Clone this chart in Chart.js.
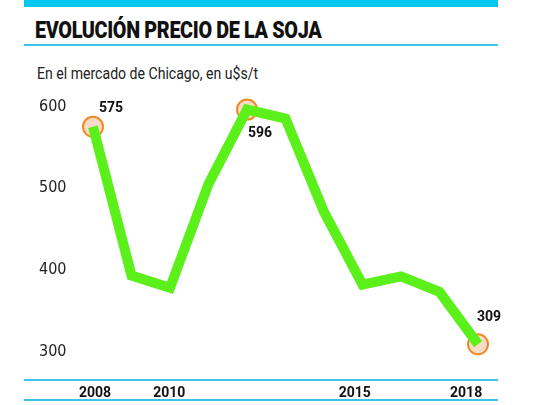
<!DOCTYPE html>
<html lang="es">
<head>
    <meta charset="UTF-8">
    <title>Evolución precio de la soja</title>
    <script src="https://cdn.jsdelivr.net/npm/chart.js"></script>
    <style>
        * { margin: 0; padding: 0; box-sizing: border-box; }
        body { width: 540px; height: 405px; background: #fff; position: relative; overflow: hidden;
               font-family: 'Liberation Sans Narrow', 'DejaVu Sans Condensed', Roboto, sans-serif; }
        .bar { position: absolute; left: 24px; width: 474px; background: #3cc4ea; }
        #topBar { top: 0; height: 7px; background: #00c6f2; }
        #titleLine { top: 44px; height: 2px; }
        #axisTop { top: 379px; height: 2px; }
        #axisBottom { top: 399px; height: 2px; }
        h1 { position: absolute; left: 35px; top: 17px; font-size: 23px; font-weight: 900; color: #111;
             font-family: Roboto, sans-serif; letter-spacing: -0.4px; transform: scaleX(0.86); transform-origin: left; }
        h2 { position: absolute; left: 37px; top: 64px; font-size: 16px; font-weight: 400; color: #222;
             font-family: Roboto, sans-serif; transform: scaleX(0.88); transform-origin: left; }
        #chartBox { position: absolute; left: 0; top: 0; width: 540px; height: 405px; }
    </style>
</head>
<body>
    <div class="bar" id="topBar"></div>
    <h1>EVOLUCIÓN PRECIO DE LA SOJA</h1>
    <div class="bar" id="titleLine"></div>
    <h2>En el mercado de Chicago, en u$s/t</h2>
    <div class="bar" id="axisTop"></div>
    <div class="bar" id="axisBottom"></div>
    <div id="chartBox"><canvas id="sojaChart"></canvas></div>

    <script>
        // datos
        var years = [2008, 2009, 2010, 2011, 2012, 2013, 2014, 2015, 2016, 2017, 2018];
        var prices = [575, 393, 378, 505, 596, 585, 471, 382, 392, 373, 309];
        var yearTicks = [2008, 2010, 2015, 2018];
        var priceTicks = [300, 400, 500, 600];
        var highlighted = [0, 4, 10];

        var circleData = prices.map((v, i) => highlighted.includes(i) ? v : null);

        // posicion de cada etiqueta respecto del punto
        var labelOffsets = { 0: [18, -18], 4: [13, 24], 10: [11, -27] };

        var valueLabels = {
            id: 'valueLabels',
            afterDatasetsDraw(chart) {
                var ctx = chart.ctx;
                var meta = chart.getDatasetMeta(0);
                ctx.save();
                ctx.font = 'bold 14px Roboto, sans-serif';
                ctx.fillStyle = '#111';
                ctx.textAlign = 'center';
                ctx.textBaseline = 'middle';
                highlighted.forEach(i => {
                    var p = meta.data[i];
                    var off = labelOffsets[i];
                    ctx.fillText(String(prices[i]), p.x + off[0], p.y + off[1]);
                });
                ctx.restore();
            }
        };

        var ctx = document.getElementById('sojaChart').getContext('2d');
        var sojaChart = new Chart(ctx, {
            type: 'line',
            data: {
                labels: years,
                datasets: [{
                    data: prices,
                    borderColor: '#5cf01a',
                    borderWidth: 10,
                    pointRadius: 0,
                    tension: 0,
                    order: 0
                }, {
                    data: circleData,
                    showLine: false,
                    pointRadius: 10,
                    pointBorderWidth: 2,
                    pointBorderColor: '#f08a28',
                    pointBackgroundColor: '#f9dcc8',
                    order: 1
                }]
            },
            options: {
                responsive: true,
                maintainAspectRatio: false,
                animation: false,
                layout: { padding: { left: 39, right: 62, top: 90, bottom: 0 } },
                plugins: { legend: { display: false }, tooltip: { enabled: false } },
                scales: {
                    x: { display: false },
                    x2: {
                        type: 'linear',
                        position: 'bottom',
                        min: 2008 - 2 / 37.5,
                        max: 2008 + 387 / 37.5,
                        grid: { display: false, drawTicks: false },
                        border: { display: false },
                        afterBuildTicks: s => { s.ticks = yearTicks.map(v => ({ value: v })); },
                        afterFit: s => { s.height = 37; },
                        ticks: {
                            padding: 17,
                            color: '#111',
                            font: { family: 'Roboto', weight: 'bold', size: 14 },
                            callback: v => String(v)
                        }
                    },
                    y: {
                        min: 280,
                        max: 620,
                        grid: { display: false, drawTicks: false },
                        border: { display: false },
                        afterBuildTicks: s => { s.ticks = priceTicks.map(v => ({ value: v })); },
                        afterFit: s => { s.width = 54; },
                        ticks: {
                            crossAlign: 'far',
                            color: '#222',
                            font: { family: "'Liberation Sans Narrow', 'DejaVu Sans Condensed', Roboto", size: 16 }
                        }
                    }
                }
            },
            plugins: [valueLabels]
        });
    </script>
</body>
</html>
